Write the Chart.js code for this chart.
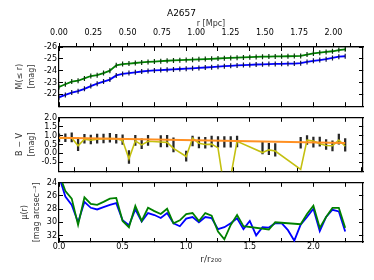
<!DOCTYPE html>
<html>
<head>
<meta charset="utf-8">
<script src="https://cdn.jsdelivr.net/npm/chart.js@4.4.1/dist/chart.umd.min.js"></script>
<style>
  html, body { margin: 0; padding: 0; background: #fff; }
  #wrap { position: relative; width: 374px; height: 280px; overflow: hidden; }
  canvas { position: absolute; left: 0; }
</style>
</head>
<body>
<div id="wrap">
  <canvas id="magChart" width="374" height="117" style="top:0"></canvas>
  <canvas id="colorChart" width="374" height="75" style="top:107px"></canvas>
  <canvas id="sbChart" width="374" height="108" style="top:172px"></canvas>
</div>
<script>
// radius bins in units of r200
const rOverR200 = [0, 0.05, 0.1, 0.15, 0.2, 0.25, 0.3, 0.35, 0.4, 0.45, 0.5, 0.55, 0.6, 0.65, 0.7,
  0.75, 0.8, 0.85, 0.9, 0.95, 1.0, 1.05, 1.1, 1.15, 1.2, 1.25, 1.3, 1.35, 1.4, 1.45, 1.5, 1.55,
  1.6, 1.65, 1.7, 1.75, 1.8, 1.85, 1.9, 1.95, 2.0, 2.05, 2.1, 2.15, 2.2, 2.25];

// cumulative magnitude M(<= r)
const magGreen = [-22.62, -22.85, -23.08, -23.15, -23.35, -23.55, -23.62, -23.8, -24.0, -24.45,
  -24.56, -24.6, -24.65, -24.7, -24.74, -24.77, -24.8, -24.84, -24.87, -24.89, -24.91, -24.93,
  -24.96, -24.98, -25.0, -25.03, -25.06, -25.08, -25.1, -25.12, -25.14, -25.16, -25.18, -25.19,
  -25.2, -25.21, -25.22, -25.23, -25.25, -25.36, -25.46, -25.52, -25.58, -25.64, -25.74, -25.8];
const magBlue = [-21.75, -21.95, -22.15, -22.27, -22.47, -22.7, -22.9, -23.08, -23.25, -23.6,
  -23.73, -23.8, -23.86, -23.93, -23.98, -24.02, -24.05, -24.08, -24.11, -24.14, -24.17, -24.2,
  -24.23, -24.27, -24.3, -24.34, -24.38, -24.41, -24.44, -24.47, -24.49, -24.52, -24.54, -24.56,
  -24.57, -24.58, -24.59, -24.6, -24.63, -24.74, -24.83, -24.9, -24.97, -25.08, -25.18, -25.22];

// B - V colour profile
const bvLine = [0.86, 0.87, 0.87, 0.43, 0.8, 0.74, 0.8, 0.82, 0.84, 0.82, 0.72, -0.3, 0.7, 0.48,
  0.68, null, 0.64, 0.62, 0.28, null, -0.17, 0.85, 0.57, 0.5, 0.52, 0.31, -2.0, -1.3, 0.68, null,
  null, null, 0.05, 0.2, 0.13, null, null, null, -0.9, 0.75, 0.7, 0.54, 0.44, 0.43, 0.75, 0.4];
const bvMid = [0.88, 0.88, 0.9, 0.51, 0.82, 0.78, 0.83, 0.84, 0.88, 0.82, 0.78, -0.2, 0.73, 0.54,
  0.73, null, 0.68, 0.69, 0.48, null, -0.15, 0.7, 0.61, 0.6, 0.67, 0.65, 0.65, 0.65, 0.67, null,
  null, null, 0.3, 0.25, 0.2, null, null, null, 0.6, 0.75, 0.63, 0.66, 0.5, 0.42, 0.8, 0.48];
const bvErr = [0.22, 0.22, 0.25, 0.35, 0.25, 0.25, 0.25, 0.25, 0.25, 0.25, 0.27, 0.36, 0.28, 0.28,
  0.28, null, 0.32, 0.32, 0.4, null, 0.28, 0.28, 0.3, 0.3, 0.3, 0.3, 0.3, 0.3, 0.3, null, null,
  null, 0.33, 0.32, 0.35, null, null, null, 0.3, 0.25, 0.28, 0.25, 0.28, 0.28, 0.28, 0.35];
const bvFitX = [0, 2.25];
const bvFitY = [0.88, 0.59];

// surface brightness mu(r)
const muGreen = [22.6, 25.25, 26.4, 30.4, 26.2, 27.2, 27.35, 26.9, 26.4, 26.3, 29.8, 30.75, 27.5,
  29.8, 27.8, 28.3, 28.75, 27.95, 30.15, 29.7, 28.75, 28.6, 29.8, 28.6, 29.0, 31.4, 32.6, 30.4,
  28.9, 30.6, null, null, null, 31.1, 30.0, null, null, null, 30.3, 28.75, 27.5, 30.85, 29.2,
  27.8, 27.8, 30.85];
const muBlue = [23.0, 26.1, 27.35, 30.0, 26.9, 27.8, 28.05, 27.7, 27.35, 27.1, 29.7, 30.45, 28.05,
  29.9, 28.6, 28.9, 29.35, 28.6, 30.15, 30.6, 29.45, 29.2, 30.0, 29.2, 29.35, 31.05, 30.75, 30.15,
  29.4, 31.05, 29.8, 32.0, 30.75, 30.8, 30.15, 30.15, 31.2, 32.8, 30.35, 29.2, 27.95, 31.35, 29.2,
  28.1, 28.35, 31.4];

const X_MAX = 2.39;
const R200_MPC = 0.927;

Chart.defaults.font.family = "'DejaVu Sans', sans-serif";
Chart.defaults.font.size = 8;
Chart.defaults.color = "#000";

const GREEN = "#008000";
const BLUE = "#0000ff";

function pts(ys) {
  return rOverR200.map((x, i) => ({ x, y: ys[i] }));
}

const inwardGrid = { drawOnChartArea: false, tickLength: -4, color: "#000", tickWidth: 1 };
const spine = { display: true, color: "#000", width: 1.2 };

function xScale(position, height, showLabels, title) {
  return {
    type: "linear", position, min: 0, max: X_MAX, offset: false,
    grid: inwardGrid, border: spine,
    ticks: {
      display: showLabels, stepSize: 0.25, autoSkip: false, includeBounds: false, padding: 4.2,
      maxRotation: 0,
      callback: (v) => (Math.round(v * 4) % 2 === 0 ? v.toFixed(1) : ""),
    },
    title: title || { display: false },
    afterFit: (s) => { s.height = height; },
  };
}

function yScales(min, max, reverse, step, fmt, hide, labelText, labelPad) {
  const ticks = {
    stepSize: step, autoSkip: false, includeBounds: false, padding: 6,
    callback: (v) => (v === hide ? "" : fmt(v)),
  };
  return {
    y: {
      type: "linear", position: "left", min, max, reverse,
      grid: inwardGrid, border: spine, ticks,
      title: {
        display: true, text: labelText, color: "#333",
        font: { size: 8, lineHeight: 1.5 }, padding: { top: labelPad, bottom: 0 },
      },
      afterFit: (s) => { s.width = 59; },
    },
    yRight: {
      type: "linear", position: "right", min, max, reverse,
      grid: inwardGrid, border: spine,
      ticks: { display: false, stepSize: step, includeBounds: false },
      afterFit: (s) => { s.width = 0; },
    },
  };
}

const common = {
  responsive: false,
  animation: false,
  events: [],
  plugins: { legend: { display: false }, tooltip: { enabled: false } },
};

function lineSet(data, color, extra) {
  return Object.assign({
    data, borderColor: color, backgroundColor: color, borderWidth: 1.8,
    pointRadius: 0, spanGaps: true, tension: 0, clip: 0, xAxisID: "x", yAxisID: "y",
  }, extra || {});
}

// top panel: cumulative magnitude with Mpc axis on top
new Chart(document.getElementById("magChart"), {
  type: "line",
  data: {
    datasets: [
      lineSet(pts(magGreen), GREEN, {
        pointStyle: "line", pointRotation: 90, pointRadius: 2.5,
        pointBorderWidth: 1.2, pointBorderColor: "#0a3a0a",
      }),
      lineSet(pts(magBlue), BLUE, {
        pointStyle: "line", pointRotation: 90, pointRadius: 2.5,
        pointBorderWidth: 1.2, pointBorderColor: "#10104a",
      }),
    ],
  },
  options: Object.assign({}, common, {
    layout: { padding: { top: 0, right: 11, bottom: 5, left: 0 } },
    plugins: Object.assign({}, common.plugins, {
      title: {
        display: true, text: "A2657", color: "#000",
        font: { size: 9, weight: "normal" }, padding: { top: 8, bottom: 0 },
      },
    }),
    scales: Object.assign({
      x: xScale("bottom", 0, false),
      xTop: xScale("top", 0, false),
      xMpc: {
        type: "linear", position: "top", min: 0, max: X_MAX * R200_MPC, offset: false,
        grid: { drawOnChartArea: false, tickLength: 4, color: "#000" },
        border: spine,
        ticks: {
          stepSize: 0.125, autoSkip: false, includeBounds: false, padding: 5.2, maxRotation: 0,
          callback: (v) => (Math.round(v * 8) % 2 === 0 ? v.toFixed(2) : ""),
        },
        title: { display: true, text: "r [Mpc]", color: "#333", font: { size: 8 }, padding: 0 },
        afterFit: (s) => { s.height = 28.2; },
      },
    }, yScales(-26, -21, true, 1, (v) => v.toFixed(0), -21, ["M(≤ r)", "[mag]"], 14)),
  }),
});

// middle panel: B - V colour
const bvBars = rOverR200
  .map((x, i) => (bvMid[i] == null ? null : { x, y: [bvMid[i] - bvErr[i], bvMid[i] + bvErr[i]] }))
  .filter((p) => p !== null);

new Chart(document.getElementById("colorChart"), {
  type: "line",
  data: {
    datasets: [
      lineSet(bvFitX.map((x, i) => ({ x, y: bvFitY[i] })), "#ff9022", { borderWidth: 2 }),
      lineSet(pts(bvLine), "#c4c010", { borderWidth: 1.6 }),
      {
        type: "bar", data: bvBars, backgroundColor: "#262626", borderWidth: 0,
        barThickness: 1.6, xAxisID: "x", yAxisID: "y", clip: 0,
      },
    ],
  },
  options: Object.assign({}, common, {
    layout: { padding: { top: 5, right: 11, bottom: 5, left: 0 } },
    scales: Object.assign({
      x: xScale("bottom", 0, false),
      xTop: xScale("top", 0, false),
    }, yScales(-1, 2, false, 0.5, (v) => v.toFixed(1), -1, ["B − V", "[mag]"], 14)),
  }),
});

// bottom panel: surface brightness
new Chart(document.getElementById("sbChart"), {
  type: "line",
  data: {
    datasets: [
      lineSet(pts(muGreen), GREEN),
      lineSet(pts(muBlue), BLUE),
    ],
  },
  options: Object.assign({}, common, {
    layout: { padding: { top: 5, right: 11, bottom: 0, left: 0 } },
    scales: Object.assign({
      x: xScale("bottom", 38, true, {
        display: true, text: "r/r₂₀₀", color: "#333",
        font: { size: 9 }, padding: { top: 0, bottom: 14.6 },
      }),
      xTop: xScale("top", 0, false),
    }, yScales(24, 33, true, 2, (v) => v.toFixed(0), null, ["μ(r)", "[mag arcsec⁻²]"], 19)),
  }),
});
</script>
</body>
</html>
